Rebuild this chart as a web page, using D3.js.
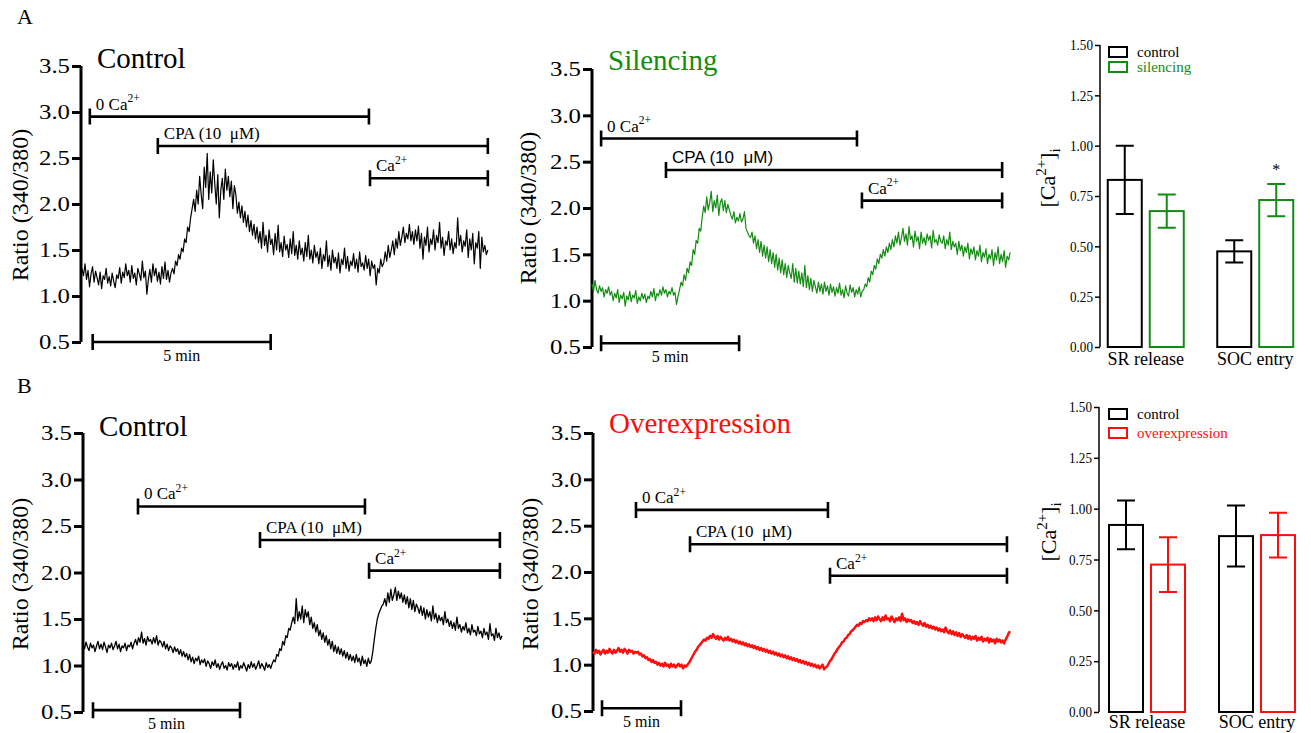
<!DOCTYPE html>
<html><head><meta charset="utf-8">
<script src="https://cdn.jsdelivr.net/npm/d3@7"></script>
<style>
html,body{margin:0;padding:0;background:#fff;}
svg text{font-family:"Liberation Serif","Times New Roman",Tinos,"DejaVu Serif",serif;}
svg text.sans{font-family:"Liberation Sans",Arial,"DejaVu Sans",sans-serif;}
</style></head>
<body>
<svg id="fig" width="1311" height="733"></svg>
<script>
// ---------------- DATA ----------------
const ratioTicks = [0.5, 1.0, 1.5, 2.0, 2.5, 3.0, 3.5];
const barTicks = [0.00, 0.25, 0.50, 0.75, 1.00, 1.25, 1.50];
const barCategories = ["SR release", "SOC entry"];

// Trace durations (min)
const durA_ctrl = 11.4, durA_sil = 15.15, durB_ctrl = 14.25, durB_over = 26.4;

// Ratio (340/380) traces, uniformly sampled over each trace's duration
const traceA_ctrl = [
 1.30,1.22,1.35,1.18,1.28,1.10,1.24,1.32,1.15,1.27,1.20,1.12,1.26,1.08,1.22,1.18,1.30,1.14,1.21,1.11,
 1.25,1.16,1.09,1.23,1.19,1.31,1.14,1.26,1.20,1.35,1.22,1.28,1.15,1.33,1.19,1.25,1.12,1.30,1.24,1.17,
 1.38,1.20,1.27,1.02,1.18,1.29,1.15,1.35,1.22,1.30,1.16,1.26,1.13,1.32,1.19,1.37,1.18,1.28,1.15,1.25,
 1.30,1.24,1.38,1.33,1.45,1.40,1.52,1.48,1.62,1.58,1.75,1.70,1.85,1.95,
 2.05,1.92,2.15,2.00,2.30,2.10,1.95,2.40,2.18,2.55,2.05,2.35,2.12,2.48,2.22,2.00,2.32,1.85,2.15,2.28,2.05,2.38,2.15,2.30,2.08,2.25,1.95,2.20,
 2.10,1.90,2.02,1.85,1.98,1.80,1.92,1.75,1.88,1.70,1.82,1.66,1.78,1.62,
 1.75,1.58,1.70,1.52,1.80,1.55,1.66,1.48,1.72,1.56,1.62,1.45,1.68,1.50,1.77,1.48,1.58,1.43,1.65,1.50,
 1.56,1.42,1.62,1.46,1.70,1.44,1.55,1.40,1.60,1.45,1.52,1.38,1.58,1.43,1.66,1.40,1.50,1.36,1.55,1.42,
 1.48,1.35,1.52,1.30,1.45,1.38,1.60,1.32,1.44,1.28,1.50,1.36,1.42,1.30,1.47,1.25,1.40,1.34,1.52,1.30,
 1.43,1.27,1.38,1.33,1.46,1.30,1.40,1.26,1.48,1.32,1.36,1.28,1.44,1.30,1.40,1.22,1.38,1.30,1.34,1.12,
 1.30,1.25,1.40,1.32,1.36,1.48,1.38,1.55,1.42,1.50,1.60,1.45,1.62,1.52,1.70,1.55,1.64,1.75,1.58,1.68,1.62,1.78,1.60,1.70,1.56,1.72,
 1.60,1.76,1.52,1.68,1.40,1.64,1.55,1.75,1.48,1.62,1.56,1.72,1.50,1.66,1.58,1.80,1.52,1.64,1.44,1.60,1.55,1.70,1.50,1.62,
 1.46,1.58,1.52,1.85,1.55,1.66,1.48,1.60,1.54,1.72,1.42,1.62,1.50,1.68,1.35,1.58,1.52,1.70,1.30,1.64,1.48,1.55,1.45,1.50
];
const traceA_sil = [
 1.18,1.10,1.22,1.12,1.08,1.16,1.10,1.14,1.04,1.12,1.08,1.15,1.06,1.10,1.00,1.08,1.03,1.12,0.98,1.06,
 1.02,1.09,0.94,1.05,1.01,1.10,0.99,1.06,1.03,1.11,0.97,1.04,1.00,1.08,1.02,1.07,0.98,1.05,1.02,1.10,
 1.04,1.13,1.00,1.08,1.05,1.12,1.06,1.15,1.08,1.12,1.04,1.10,1.07,1.14,1.06,1.09,0.96,1.05,
 1.12,1.20,1.16,1.28,1.22,1.35,1.30,1.42,1.38,1.55,1.50,1.65,1.62,1.78,1.75,1.90,
 2.02,1.95,2.12,1.98,2.06,2.18,1.96,2.08,2.00,2.14,1.92,2.06,2.10,1.97,2.08,1.95,2.04,1.98,
 1.92,1.88,1.96,1.84,1.90,1.86,1.94,1.85,1.88,1.96,1.78,1.74,1.70,1.68,
 1.74,1.62,1.70,1.56,1.66,1.52,1.64,1.48,1.60,1.46,1.58,1.42,1.55,1.40,1.52,1.36,1.50,1.33,1.46,1.30,
 1.44,1.28,1.40,1.25,1.38,1.30,1.24,1.40,1.20,1.35,1.19,1.32,1.18,1.30,1.15,1.38,1.14,1.27,1.12,1.24,
 1.10,1.22,1.15,1.08,1.20,1.10,1.18,1.07,
 1.20,1.10,1.16,1.06,1.18,1.09,1.15,1.05,1.14,1.08,1.19,1.06,1.12,1.03,1.16,1.08,1.05,1.17,1.09,1.14,1.04,1.12,1.07,1.15,1.04,1.10,
 1.12,1.18,1.15,1.25,1.20,1.32,1.28,1.38,1.34,1.45,1.40,1.50,1.46,1.55,1.48,1.58,1.52,1.62,1.55,1.66,1.58,1.70,1.62,1.74,1.60,1.68,
 1.78,1.64,1.72,1.60,1.80,1.66,1.70,1.58,1.75,1.64,1.69,1.56,1.74,1.62,1.68,1.60,1.72,1.65,1.70,1.57,1.76,1.63,1.66,1.60,1.71,1.64,
 1.62,1.70,1.56,1.66,1.60,1.74,1.55,1.64,1.58,1.62,1.50,1.64,1.54,1.60,1.48,1.58,1.52,1.62,1.45,1.56,
 1.50,1.58,1.44,1.54,1.48,1.60,1.42,1.52,1.47,1.56,1.40,1.50,1.45,1.55,1.38,1.52,1.44,1.58,1.40,1.50,
 1.42,1.54,1.36,1.48,1.44,1.52
];
const traceB_ctrl = [
 1.22,1.18,1.25,1.20,1.16,1.24,1.19,1.22,1.15,1.21,1.26,1.18,1.23,1.17,1.25,1.20,1.14,1.22,1.19,1.24,
 1.17,1.21,1.26,1.18,1.23,1.15,1.21,1.19,1.24,1.16,1.22,1.20,1.25,1.18,
 1.24,1.28,1.22,1.30,1.25,1.36,1.24,1.29,1.22,1.31,1.26,1.28,1.23,1.30,1.24,1.32,1.22,1.27,
 1.25,1.20,1.26,1.18,1.23,1.16,1.21,1.19,1.14,1.20,1.15,1.18,1.12,1.17,1.10,1.15,1.09,1.13,
 1.06,1.12,1.04,1.09,1.02,1.08,1.05,1.10,1.01,1.06,1.03,1.07,0.99,1.05,1.02,0.97,1.04,1.00,1.06,0.98,
 1.02,0.96,1.01,1.04,0.97,1.00,0.95,1.03,0.99,1.02,0.96,1.01,0.98,1.04,0.95,1.00,0.97,1.03,0.99,0.94,
 1.01,0.97,1.04,0.98,1.02,0.96,1.00,1.05,0.97,1.02,0.99,0.95,1.03,0.98,1.01,0.97,
 1.02,1.06,1.04,1.12,1.10,1.18,1.16,1.26,1.22,1.32,1.30,1.40,1.38,1.46,
 1.52,1.45,1.72,1.48,1.58,1.50,1.64,1.46,1.60,1.52,
 1.58,1.44,1.52,1.40,1.46,1.36,1.44,1.32,1.38,1.28,1.35,1.25,1.32,1.22,1.28,1.18,1.26,1.15,1.22,1.13,
 1.20,1.12,1.18,1.10,1.16,1.08,1.14,1.06,1.12,1.05,1.10,1.03,1.12,1.04,1.08,1.00,1.10,1.02,1.06,0.99,1.08,1.02,
 1.05,1.15,1.28,1.40,1.50,1.56,1.60,1.64,
 1.66,1.72,1.64,1.78,1.68,1.82,1.70,1.76,1.84,1.70,1.80,1.72,1.78,1.68,
 1.76,1.66,1.74,1.62,1.72,1.60,1.70,1.58,1.66,1.62,1.56,1.64,1.54,1.62,1.50,1.60,1.52,1.58,1.48,1.64,
 1.50,1.56,1.46,1.54,1.48,1.52,1.44,1.58,1.46,1.50,1.42,1.48,1.40,1.46,1.38,1.52,1.40,1.44,1.36,1.42,
 1.38,1.46,1.35,1.40,1.33,1.44,1.36,1.38,1.32,1.42,1.34,1.37,1.30,1.40,1.33,1.36,1.28,1.45,1.32,1.34,
 1.27,1.40,1.30,1.35,1.28,1.32
];
const traceB_over = [
 1.14,1.12,1.16,1.13,1.15,1.11,1.14,1.16,1.12,1.15,1.13,1.17,1.14,1.12,1.16,1.13,1.15,1.18,1.14,1.16,
 1.13,1.17,1.15,1.12,1.16,1.14,1.15,1.12,1.14,1.13,
 1.14,1.11,1.12,1.09,1.10,1.07,1.08,1.05,1.06,1.03,1.05,1.02,1.03,1.00,
 1.02,0.99,1.01,0.98,1.02,0.99,1.00,0.97,1.01,0.98,1.00,0.97,0.99,1.01,0.98,1.00,0.96,0.99,0.98,1.00,
 1.02,1.05,1.08,1.11,1.14,1.16,1.19,1.21,1.23,1.25,1.27,1.26,1.29,1.28,1.31,1.29,1.33,1.30,
 1.28,1.31,1.27,1.30,1.28,1.26,1.29,1.27,1.30,1.26,1.28,1.25,
 1.27,1.24,1.26,1.23,1.25,1.22,1.24,1.21,1.23,1.20,1.22,1.19,1.21,1.18,1.20,1.17,1.19,1.16,1.18,1.15,
 1.17,1.14,1.16,1.13,1.15,1.12,1.14,1.11,1.13,1.10,1.12,1.09,1.11,1.08,1.10,1.07,1.09,1.06,1.08,1.05,
 1.07,1.04,1.06,1.03,1.05,1.02,1.04,1.01,1.03,1.00,1.02,0.99,1.01,0.98,1.00,0.97,0.99,0.96,0.98,1.00,
 0.95,0.97,
 0.98,1.01,1.04,1.06,1.09,1.12,1.14,1.17,1.19,1.21,1.24,1.25,1.28,1.29,1.32,1.33,1.36,1.37,1.39,1.41,
 1.43,1.42,1.45,1.44,1.47,1.46,1.48,1.47,1.50,1.48,
 1.50,1.47,1.51,1.48,1.52,1.49,1.47,1.51,1.48,1.53,1.49,1.50,1.47,1.52,1.49,1.46,1.50,1.48,1.51,1.47,
 1.55,1.48,1.50,1.46,1.49,1.47,
 1.48,1.45,1.47,1.44,1.46,1.43,1.47,1.44,1.42,1.45,1.41,1.43,1.40,1.42,1.39,1.41,1.38,1.40,1.37,1.39,
 1.36,1.38,1.35,1.40,1.36,1.34,1.37,1.33,1.36,1.32,1.35,1.31,1.34,1.30,1.33,1.31,1.29,1.32,1.28,1.31,
 1.27,1.30,1.28,1.31,1.26,1.29,1.27,1.30,1.25,1.28,1.26,1.29,1.24,1.28,1.25,1.27,1.23,1.28,1.25,1.27,
 1.24,1.26,1.23,1.27,1.30,1.34,1.36
];

// Protocol markers: [label, superscript, start min, end min, ratio level]
const markersA_ctrl = [["0 Ca","2+",0.22,8.06,2.95],["CPA (10\u00A0 \u03BCM)","",2.13,11.4,2.63],["Ca","2+",8.09,11.4,2.28]];
const markersA_sil  = [["0 Ca","2+",0.33,9.6,2.75],["CPA (10\u00A0 \u03BCM)","",2.68,14.86,2.41],["Ca","2+",9.78,14.86,2.08]];
const markersB_ctrl = [["0 Ca","2+",1.87,9.59,2.71],["CPA (10\u00A0 \u03BCM)","",6.02,14.18,2.35],["Ca","2+",9.73,14.18,2.02]];
const markersB_over = [["0 Ca","2+",2.72,14.87,2.67],["CPA (10\u00A0 \u03BCM)","",6.14,26.2,2.30],["Ca","2+",15.0,26.2,1.96]];
// 5 min scale bars: [start min, end min, ratio level]
const scaleA_ctrl = [0.3, 5.3, 0.5], scaleA_sil = [0.33, 5.33, 0.54], scaleB_ctrl = [0.34, 5.34, 0.52], scaleB_over = [0.57, 5.57, 0.53];

// Bar chart values (mean, SEM)
const barA_control = [0.83, 0.475], barA_controlErr = [0.17, 0.055];
const barA_silencing = [0.675, 0.73], barA_silencingErr = [0.083, 0.08];
const barB_control = [0.92, 0.865], barB_controlErr = [0.12, 0.15];
const barB_overexp = [0.725, 0.87], barB_overexpErr = [0.135, 0.11];

// ---------------- DRAW ----------------
const GREEN = "#148c14", RED = "#ff0d0d";
const svg = d3.select("#fig");

svg.append("text").attr("x", 17).attr("y", 24).attr("font-size", 22).text("A");
svg.append("text").attr("x", 17).attr("y", 393).attr("font-size", 22).text("B");

function supText(g, x, y, main, sup, size) {
  const t = g.append("text").attr("x", x).attr("y", y).attr("font-size", size);
  t.append("tspan").text(main);
  if (sup) t.append("tspan").attr("dy", -size * 0.42).attr("font-size", size * 0.68).text(sup);
  return t;
}

function tracePanel(cfg) {
  const g = svg.append("g");
  const y = d3.scaleLinear().domain([0.5, 3.5]).range([cfg.yBot, cfg.yTop]);
  const x = d3.scaleLinear().domain([0, cfg.dur]).range([cfg.x0, cfg.x0 + cfg.dur * cfg.ppm]);
  const ax = g.append("g").attr("transform", `translate(${cfg.axisX},0)`)
    .call(d3.axisLeft(y).tickValues(ratioTicks).tickFormat(d3.format(".1f")).tickSize(9).tickPadding(2));
  ax.attr("font-family", null);
  ax.select(".domain").attr("stroke", "#000").attr("stroke-width", 3).attr("d", `M0,${cfg.yTop}V${cfg.yBot}`);
  ax.selectAll(".tick line").attr("stroke", "#000").attr("stroke-width", 3);
  ax.selectAll(".tick text").attr("font-size", 21).attr("fill", "#000")
    .attr("textLength", 31).attr("lengthAdjust", "spacingAndGlyphs");
  g.append("text").attr("transform", `translate(${cfg.labelX},${cfg.labelY}) rotate(-90)`)
    .attr("text-anchor", "middle").attr("font-size", 24).text("Ratio (340/380)");
  g.append("text").attr("x", cfg.titleX).attr("y", cfg.titleY).attr("font-size", 29).attr("fill", cfg.color).text(cfg.title);
  const n = cfg.data.length;
  const line = d3.line().x((d, i) => x(i * cfg.dur / (n - 1))).y(d => y(d));
  g.append("path").datum(cfg.data).attr("d", line).attr("fill", "none")
    .attr("stroke", cfg.color).attr("stroke-width", cfg.lw).attr("stroke-linejoin", "round");
  cfg.markers.forEach(m => {
    const x1 = x(m[2]), x2 = x(m[3]), yy = y(m[4]);
    g.append("path").attr("d", `M${x1},${yy}H${x2}M${x1},${yy - 8}V${yy + 8}M${x2},${yy - 8}V${yy + 8}`)
      .attr("stroke", "#000").attr("stroke-width", 2.6).attr("fill", "none");
    const t = supText(g, x1 + 6, yy - 7, m[0], m[1], 17);
    if (m[1] === "" && cfg.sansCPA) t.attr("class", "sans").attr("font-size", 17);
  });
  const s = cfg.scale, sx1 = x(s[0]), sx2 = x(s[1]), sy = y(s[2]);
  g.append("path").attr("d", `M${sx1},${sy}H${sx2}M${sx1},${sy - 8}V${sy + 8}M${sx2},${sy - 8}V${sy + 8}`)
    .attr("stroke", "#000").attr("stroke-width", 2.6).attr("fill", "none");
  g.append("text").attr("x", (sx1 + sx2) / 2).attr("y", sy + 19).attr("text-anchor", "middle").attr("font-size", 16).text("5 min");
}

tracePanel({axisX: 81, yTop: 66, yBot: 342, x0: 82, ppm: 35.6, dur: durA_ctrl, data: traceA_ctrl, color: "#000", lw: 1.2,
  title: "Control", titleX: 97, titleY: 68, labelX: 28, labelY: 205, markers: markersA_ctrl, scale: scaleA_ctrl});
tracePanel({axisX: 592, yTop: 69, yBot: 347, x0: 592, ppm: 27.6, dur: durA_sil, data: traceA_sil, color: GREEN, lw: 1.2,
  title: "Silencing", titleX: 608, titleY: 70, labelX: 536, labelY: 208, markers: markersA_sil, scale: scaleA_sil, sansCPA: true});
tracePanel({axisX: 83, yTop: 433, yBot: 712, x0: 83, ppm: 29.4, dur: durB_ctrl, data: traceB_ctrl, color: "#000", lw: 1.3,
  title: "Control", titleX: 99, titleY: 436, labelX: 28, labelY: 574, markers: markersB_ctrl, scale: scaleB_ctrl});
tracePanel({axisX: 593, yTop: 433, yBot: 711, x0: 593, ppm: 15.8, dur: durB_over, data: traceB_over, color: RED, lw: 2.5,
  title: "Overexpression", titleX: 609, titleY: 433, labelX: 538, labelY: 574, markers: markersB_over, scale: scaleB_over});

function barPanel(cfg) {
  const g = svg.append("g");
  const y = d3.scaleLinear().domain([0, 1.5]).range([cfg.y0, cfg.y150]);
  const ax = g.append("g").attr("transform", `translate(${cfg.axisX},0)`)
    .call(d3.axisLeft(y).tickValues(barTicks).tickFormat(d3.format(".2f")).tickSize(5).tickPadding(2));
  ax.attr("font-family", null);
  ax.select(".domain").attr("stroke", "#000").attr("stroke-width", 1.5).attr("d", `M0,${cfg.y150}V${cfg.y0}`);
  ax.selectAll(".tick line").attr("stroke", "#000").attr("stroke-width", 1.5);
  ax.selectAll(".tick text").attr("font-size", 15).attr("fill", "#000")
    .attr("textLength", 23).attr("lengthAdjust", "spacingAndGlyphs");
  const yl = g.append("text").attr("transform", `translate(${cfg.ylabX},${cfg.ylabY}) rotate(-90)`)
    .attr("text-anchor", "middle").attr("font-size", 22);
  yl.append("tspan").text("[Ca");
  yl.append("tspan").attr("dy", -9).attr("font-size", 15).text("2+");
  yl.append("tspan").attr("dy", 9).text("]");
  yl.append("tspan").attr("dy", 5).attr("font-size", 15).text("i");
  const x0 = d3.scaleBand().domain(barCategories).range([cfg.xStart, cfg.xStart + 2 * cfg.step]);
  const series = ["control", "treat"];
  const x1 = d3.scaleBand().domain(series).range([0, 76]).paddingInner(0.19);
  const off = (cfg.step - 76) / 2;
  const sets = [{k: "control", v: cfg.ctrl, e: cfg.ctrlErr, c: "#000"}, {k: "treat", v: cfg.trt, e: cfg.trtErr, c: cfg.color}];
  sets.forEach(s => {
    barCategories.forEach((cat, i) => {
      const bx = x0(cat) + off + x1(s.k), bw = x1.bandwidth();
      g.append("rect").attr("x", bx).attr("y", y(s.v[i])).attr("width", bw).attr("height", y(0) - y(s.v[i]))
        .attr("fill", "none").attr("stroke", s.c).attr("stroke-width", 2);
      const cx = bx + bw / 2, hi = y(s.v[i] + s.e[i]), lo = y(s.v[i] - s.e[i]);
      g.append("path").attr("d", `M${cx},${hi}V${lo}M${cx - 9},${hi}H${cx + 9}M${cx - 9},${lo}H${cx + 9}`)
        .attr("stroke", s.c).attr("stroke-width", 2).attr("fill", "none");
      if (cfg.star && s.k === "treat" && i === 1)
        g.append("text").attr("x", cx).attr("y", hi - 9).attr("text-anchor", "middle").attr("font-size", 16).text("*");
    });
  });
  barCategories.forEach(cat => {
    g.append("text").attr("x", x0(cat) + x0.bandwidth() / 2).attr("y", cfg.catY).attr("text-anchor", "middle")
      .attr("font-size", 18).text(cat);
  });
  const lg = [["control", "#000"], [cfg.trtName, cfg.color]];
  lg.forEach((d, i) => {
    const ly = cfg.legY + i * cfg.legDy;
    g.append("rect").attr("x", 1109).attr("y", ly).attr("width", 18).attr("height", 10)
      .attr("fill", "none").attr("stroke", d[1]).attr("stroke-width", 2);
    g.append("text").attr("x", 1137).attr("y", ly + 10).attr("font-size", 15).attr("fill", d[1]).text(d[0]);
  });
}

barPanel({axisX: 1100, y0: 347, y150: 45, xStart: 1091, step: 109.5, ctrl: barA_control, ctrlErr: barA_controlErr,
  trt: barA_silencing, trtErr: barA_silencingErr, color: GREEN, trtName: "silencing", star: true,
  ylabX: 1055, ylabY: 178, catY: 365, legY: 47, legDy: 15});
barPanel({axisX: 1099, y0: 712, y150: 407, xStart: 1092, step: 110, ctrl: barB_control, ctrlErr: barB_controlErr,
  trt: barB_overexp, trtErr: barB_overexpErr, color: RED, trtName: "overexpression", star: false,
  ylabX: 1056, ylabY: 532, catY: 728, legY: 409, legDy: 19});
</script>
</body></html>
